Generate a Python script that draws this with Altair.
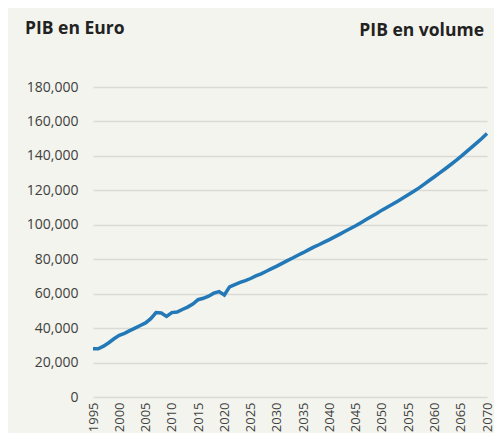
import altair as alt
import pandas as pd

years = list(range(1995, 2071))
pib = [
    28.0, 28.0, 29.5, 31.5, 33.8, 35.8, 37.0, 38.5, 40.0, 41.5,   # 1995-2004
    43.0, 45.5, 49.0, 48.8, 46.8, 49.0, 49.3, 50.8, 52.2, 54.0,   # 2005-2014
    56.5, 57.3, 58.5, 60.3, 61.2, 59.2, 64.0, 65.3, 66.5, 67.6,   # 2015-2024
    68.8, 70.3, 71.5, 73.0, 74.5, 76.0, 77.6, 79.2, 80.7, 82.3,   # 2025-2034
    83.8, 85.4, 87.0, 88.4, 89.9, 91.4, 93.0, 94.6, 96.2, 97.8,   # 2035-2044
    99.4, 101.2, 103.0, 104.8, 106.6, 108.5, 110.2, 111.9, 113.7, 115.5,  # 2045-2054
    117.4, 119.3, 121.3, 123.5, 125.7, 127.9, 130.1, 132.4, 134.7, 137.1,  # 2055-2064
    139.6, 142.2, 144.8, 147.4, 150.1, 153.0,                      # 2065-2070
]
pib = [v * 1000 for v in pib]

x_ticks = list(range(1995, 2071, 5))
y_ticks = list(range(0, 180001, 20000))

title_left = "PIB en Euro"
title_right = "PIB en volume"

df = pd.DataFrame({"annee": years, "pib": pib})

FONT = "Open Sans"
BG = "#f3f4ed"

line = alt.Chart(df).mark_line(color="#2378b8", strokeWidth=3.5).encode(
    x=alt.X(
        "annee:Q",
        scale=alt.Scale(domain=[1995, 2070], nice=False, zero=False),
        axis=alt.Axis(
            values=x_ticks, format="d", labelAngle=270, grid=False,
            domain=False, ticks=False, labelPadding=5, labelFontSize=13,
            labelColor="#404040", labelFont=FONT, title=None,
            labelOverlap=False,
        ),
    ),
    y=alt.Y(
        "pib:Q",
        scale=alt.Scale(domain=[0, 180000], nice=False),
        axis=alt.Axis(
            values=y_ticks, format=",d", grid=True, gridColor="#d9d9d6",
            gridWidth=1.5, domain=False, ticks=False, labelPadding=15,
            labelFontSize=14, labelColor="#404040", labelFont=FONT,
            title=None,
        ),
    ),
)

t1 = alt.Chart(pd.DataFrame({"t": [title_left]})).mark_text(
    align="left", baseline="alphabetic", font=FONT, fontSize=17.5,
    fontWeight="bold", color="#222222",
).encode(text="t:N", x=alt.value(-68), y=alt.value(-53))

t2 = alt.Chart(pd.DataFrame({"t": [title_right]})).mark_text(
    align="right", baseline="alphabetic", font=FONT, fontSize=17.5,
    fontWeight="bold", color="#222222",
).encode(text="t:N", x=alt.value(391), y=alt.value(-51))

chart = alt.layer(line, t1, t2).properties(
    width=394, height=310,
    autosize=alt.AutoSizeParams(type="none"),
    padding={"left": 85, "top": 79, "right": 7, "bottom": 36},
    background=BG,
).configure_view(stroke=None)

chart.save("out.html", embed_options={"renderer": "svg", "actions": False})
